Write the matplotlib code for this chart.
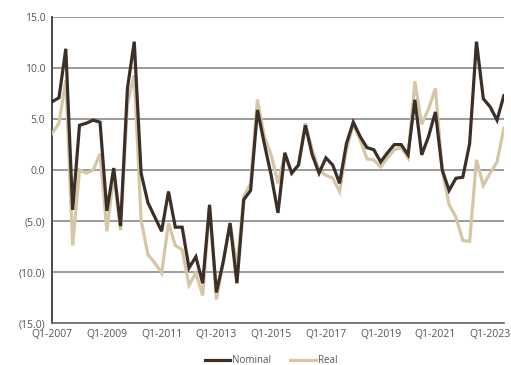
import matplotlib
matplotlib.use("Agg")
import matplotlib.pyplot as plt

plt.rcParams['font.family'] = ['Open Sans', 'DejaVu Sans']

# Quarterly growth, Q1-2007 .. Q3-2023
quarters = [f"Q{q}-{y}" for y in range(2007, 2024) for q in range(1, 5)][:67]

nominal = [6.7, 7.1, 11.9, -3.9, 4.4, 4.6, 4.9, 4.7, -4.0, 0.2,
           -5.5, 8.0, 12.6, -0.3, -3.2, -4.6, -6.0, -2.1, -5.6, -5.6,
           -9.6, -8.5, -11.1, -3.4, -12.0, -9.0, -5.2, -11.1, -2.9, -2.0,
           5.9, 2.6, -0.5, -4.2, 1.7, -0.3, 0.5, 4.4, 1.5, -0.3,
           1.2, 0.5, -1.3, 2.6, 4.7, 3.3, 2.2, 2.0, 0.8, 1.7,
           2.5, 2.5, 1.5, 6.9, 1.5, 3.3, 5.7, 0.0, -2.0, -0.8,
           -0.7, 2.6, 12.6, 7.0, 6.2, 4.9, 7.3]

real = [3.6, 4.6, 8.8, -7.4, 0.0, -0.3, 0.0, 1.6, -6.0, -0.5,
        -5.9, 6.5, 9.3, -4.9, -8.3, -9.1, -10.1, -5.2, -7.4, -7.8,
        -11.3, -10.1, -12.3, -3.6, -12.7, -9.0, -5.2, -9.5, -2.6, -1.3,
        6.9, 3.3, 1.5, -1.3, 1.5, -0.3, 0.5, 4.6, 2.0, 0.0,
        -0.5, -0.8, -2.1, 2.0, 4.5, 3.0, 1.1, 1.0, 0.3, 1.2,
        2.0, 2.2, 1.2, 8.7, 4.5, 6.0, 8.0, 0.0, -3.4, -4.6,
        -6.9, -7.0, 1.0, -1.5, -0.3, 0.8, 4.1]

y_ticks = [15, 10, 5, 0, -5, -10, -15]
y_tick_labels = ["15.0", "10.0", "5.0", "0.0", "(5.0)", "(10.0)", "(15.0)"]

nominal_color = "#3b2f28"
real_color = "#d6c6a6"

fig = plt.figure(figsize=(5.11, 3.65), dpi=100)
ax = fig.add_axes([0.102, 0.115, 0.884, 0.838])

x = list(range(len(quarters)))
ax.plot(x, real, color=real_color, lw=2.3, label="Real", zorder=3,
        solid_joinstyle="miter")
ax.plot(x, nominal, color=nominal_color, lw=2.3, label="Nominal", zorder=4,
        solid_joinstyle="miter")

ax.set_xlim(0, len(quarters) - 1)
ax.set_ylim(-15, 15)
ax.set_yticks(y_ticks)
ax.set_yticklabels(y_tick_labels)
ax.set_xticks(x[::8])
ax.set_xticklabels(quarters[::8])

for v in y_ticks:
    ax.axhline(v, color="#808080", lw=1.1, zorder=1)

for side in ("top", "right"):
    ax.spines[side].set_visible(False)
ax.spines["left"].set_color("#4a4a4a")
ax.spines["left"].set_linewidth(1.4)
ax.spines["bottom"].set_color("#6a6a6a")
ax.spines["bottom"].set_linewidth(1.2)
ax.tick_params(axis="both", length=0, labelsize=7.5, colors="#555555")
ax.tick_params(axis="y", pad=5)
ax.tick_params(axis="x", pad=4)

handles, labels = ax.get_legend_handles_labels()
leg = fig.legend(handles[::-1], labels[::-1], loc="lower center",
                 bbox_to_anchor=(0.53, -0.028), ncol=2, frameon=False,
                 fontsize=7, handlelength=2.6, columnspacing=2.0,
                 handletextpad=0.2, labelcolor="#555555")

fig.savefig("out.png", dpi=100)
